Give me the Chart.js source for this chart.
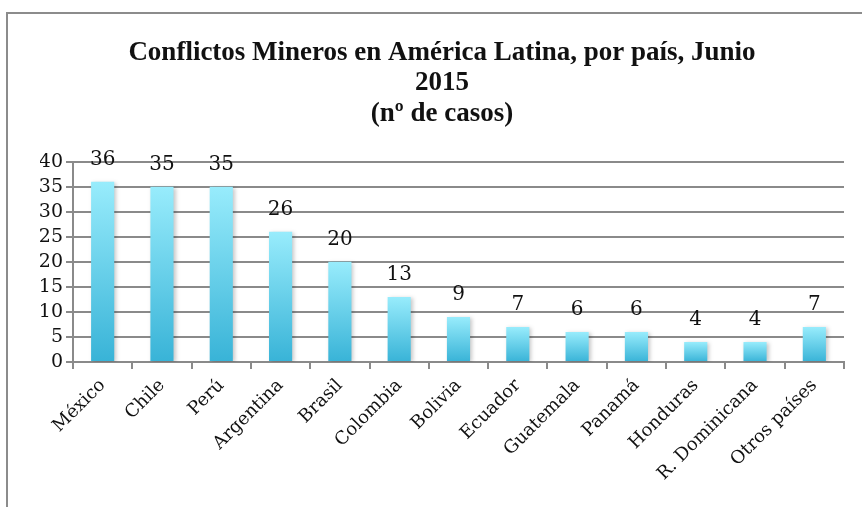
<!DOCTYPE html>
<html>
<head>
<meta charset="utf-8">
<script src="https://cdn.jsdelivr.net/npm/chart.js@4.4.0/dist/chart.umd.min.js"></script>
<style>
  html, body { margin: 0; padding: 0; background: #fff; }
  #wrap { position: relative; width: 862px; height: 507px; overflow: hidden; }
  #frame { position: absolute; left: 6px; top: 12px; width: 900px; height: 600px;
           border-left: 2px solid #8c8c8c; border-top: 2px solid #8c8c8c; }
  canvas { position: absolute; left: 0; top: 0; }
</style>
</head>
<body>
<div id="wrap">
  <div id="frame"></div>
  <canvas id="myChart" width="862" height="507"></canvas>
</div>
<script>
// data
const paises = ['México', 'Chile', 'Perú', 'Argentina', 'Brasil', 'Colombia', 'Bolivia',
  'Ecuador', 'Guatemala', 'Panamá', 'Honduras', 'R. Dominicana', 'Otros países'];
const casos = [36, 35, 35, 26, 20, 13, 9, 7, 6, 6, 4, 4, 7];
const titulo = ['Conflictos Mineros en América Latina, por país, Junio', '2015', '(nº de casos)'];

const gridGray = '#8a8a8a';

// per-bar vertical gradient, light on top
function barGradient(ctx) {
  const chart = ctx.chart;
  const y = chart.scales.y;
  if (!chart.chartArea || !y) return '#5fcbe6';
  const top = y.getPixelForValue(casos[ctx.dataIndex]);
  const bottom = y.getPixelForValue(0);
  const g = chart.ctx.createLinearGradient(0, top, 0, bottom);
  g.addColorStop(0, '#98ecfc');
  g.addColorStop(1, '#38b3d7');
  return g;
}

// soft shadow behind the bars
const barShadow = {
  id: 'barShadow',
  beforeDatasetDraw(chart) {
    const c = chart.ctx;
    c.save();
    c.shadowColor = 'rgba(0,0,0,0.22)';
    c.shadowBlur = 4;
    c.shadowOffsetX = 2;
    c.shadowOffsetY = 1;
  },
  afterDatasetDraw(chart) {
    chart.ctx.restore();
  }
};

// value labels above bars
const valueLabels = {
  id: 'valueLabels',
  afterDatasetsDraw(chart) {
    const c = chart.ctx;
    const meta = chart.getDatasetMeta(0);
    c.save();
    c.font = '20px "DejaVu Serif"';
    c.fillStyle = '#111';
    c.textAlign = 'center';
    c.textBaseline = 'bottom';
    meta.data.forEach((bar, i) => {
      c.fillText(String(casos[i]), bar.x, bar.y - 12);
    });
    c.restore();
  }
};

new Chart('myChart', {
  type: 'bar',
  data: {
    labels: paises,
    datasets: [{
      data: casos,
      backgroundColor: barGradient,
      borderWidth: 0,
      barPercentage: 0.78,
      categoryPercentage: 0.5
    }]
  },
  options: {
    responsive: false,
    animation: false,
    // left padding only recentres the title; y axis width makes up for it
    layout: { padding: { top: 38, right: 18, left: 40, bottom: 0 } },
    plugins: {
      legend: { display: false },
      tooltip: { enabled: false },
      title: {
        display: true,
        text: titulo,
        color: '#111',
        font: { family: '"Liberation Serif"', size: 27, weight: 'bold', lineHeight: 1.12 },
        padding: { top: 0, bottom: 33 }
      }
    },
    scales: {
      x: {
        grid: { display: true, drawOnChartArea: false, drawTicks: true, tickLength: 7,
                color: gridGray, lineWidth: 2, offset: true },
        border: { color: gridGray, width: 2 },
        ticks: {
          maxRotation: 45, minRotation: 45, autoSkip: false,
          color: '#111', padding: 6,
          font: { family: '"DejaVu Serif"', size: 18 }
        },
        afterFit(scale) { scale.height = 145; }
      },
      y: {
        min: 0, max: 40,
        grid: { color: gridGray, lineWidth: 2, drawTicks: true, tickLength: 7 },
        border: { color: gridGray, width: 2 },
        ticks: {
          stepSize: 5, autoSkip: false, color: '#111', padding: 3,
          font: { family: '"DejaVu Serif"', size: 19 }
        },
        afterFit(scale) { scale.width = 33; }
      }
    }
  },
  plugins: [barShadow, valueLabels]
});
</script>
</body>
</html>
